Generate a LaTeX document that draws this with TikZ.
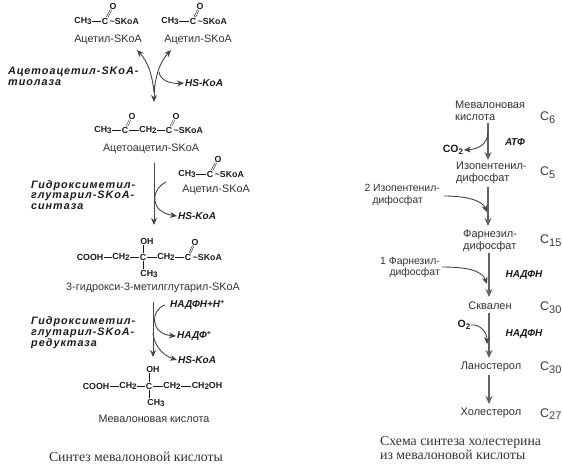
\documentclass[tikz,border=0pt]{standalone}
\usepackage{fontspec}
\setmainfont{Liberation Sans}
\newfontfamily\captionfont{Liberation Serif}
\newfontfamily\enzymefont[LetterSpace=9]{Liberation Sans}
\usetikzlibrary{arrows.meta,positioning}
\definecolor{ink}{HTML}{1A1A1A}
\definecolor{arrowgray}{HTML}{454545}
\newcommand{\lowidx}[1]{\raisebox{-0.35ex}{\fontsize{8}{8}\selectfont #1}}
\newcommand{\bigidx}[1]{\raisebox{-0.4ex}{\fontsize{11}{12}\selectfont #1}}
\tikzset{
  chem/.style={inner sep=0.6pt, text=ink, font=\fontsize{8.8}{10}\selectfont\bfseries},
  chemname/.style={inner sep=1pt, text=ink!90, font=\fontsize{10.8}{12}\selectfont},
  enzyme/.style={anchor=west, inner sep=0pt, align=left, text=ink,
                 font=\fontsize{10.8}{10.8}\selectfont\enzymefont\bfseries\itshape},
  cofactor/.style={inner sep=1pt, text=ink, font=\fontsize{10}{12}\selectfont\bfseries\itshape},
  carbon/.style={anchor=west, inner sep=0pt, text=ink!85, font=\fontsize{12.5}{14}\selectfont},
  molecule/.style={inner sep=1pt, align=left, text=ink!90, font=\fontsize{11}{12}\selectfont},
  sidemol/.style={inner sep=0pt, text=ink!90, font=\fontsize{10.4}{11.5}\selectfont},
  papercaption/.style={inner sep=0pt, text=ink!90, align=left, font=\fontsize{13.8}{14}\selectfont\captionfont},
  bond/.style={line width=0.8pt, draw=ink},
  twobond/.style={double=white, double distance=0.9pt, line width=0.55pt, draw=ink},
  mainflow/.style={-{Stealth[length=8pt,width=7pt]}, line width=1.3pt, draw=arrowgray!85},
  sideflow/.style={-{Stealth[length=7pt,width=6pt]}, line width=0.9pt, draw=arrowgray}
}
\begin{document}
\begin{tikzpicture}[x=1pt,y=-1pt]
\useasboundingbox (0,0) rectangle (562,465);
% acetyl pair
\node[chem] (meA) at (83,21) {CH\lowidx{3}};
\node[chem] (cA) at (105,21) {C};
\node[chem, anchor=west] (skA) at (109,21) {\string~SKoA};
\node[chem] (oA) at (113,6) {O};
\node[chemname] (acetylA) at (108,40) {Ацетил-SKoA};
\node[chem] (meB) at (170,21) {CH\lowidx{3}};
\node[chem] (cB) at (193,21) {C};
\node[chem, anchor=west] (skB) at (197,21) {\string~SKoA};
\node[chem] (oB) at (200,6) {O};
\node[chemname] (acetylB) at (198,40) {Ацетил-SKoA};
\draw[bond] (meA) -- (cA);
\draw[twobond] (cA) -- (oA);
\draw[bond] (meB) -- (cB);
\draw[twobond] (cB) -- (oB);
\node[enzyme] (thiolase) at (8,76.5) {Ацетоацетил-SKoA-\\тиолаза};
\node[cofactor, anchor=west] (hsA) at (184,83) {HS-KoA};
% acetoacetyl
\node[chem] (meC) at (103,130) {CH\lowidx{3}};
\node[chem] (cC) at (125,130) {C};
\node[chem] (chC) at (148,130) {CH\lowidx{2}};
\node[chem] (cD) at (169,130) {C};
\node[chem, anchor=west] (skC) at (173,130) {\string~SKoA};
\node[chem] (oC) at (132,116) {O};
\node[chem] (oD) at (176,116) {O};
\node[chemname] (acetoacetyl) at (151,149) {Ацетоацетил-SKoA};
\draw[bond] (meC) -- (cC);
\draw[bond] (cC) -- (chC);
\draw[bond] (chC) -- (cD);
\draw[twobond] (cC) -- (oC);
\draw[twobond] (cD) -- (oD);
% second acetyl
\node[chem] (meE) at (187,174) {CH\lowidx{3}};
\node[chem] (cE) at (210,174) {C};
\node[chem, anchor=west] (skE) at (214,174) {\string~SKoA};
\node[chem] (oE) at (218,159) {O};
\node[chemname] (acetylC) at (216,190) {Ацетил-SKoA};
\draw[bond] (meE) -- (cE);
\draw[twobond] (cE) -- (oE);
\node[enzyme] (synthase) at (31,195) {Гидроксиметил-\\глутарил-SKoA-\\синтаза};
\node[cofactor, anchor=west] (hsB) at (177,216) {HS-KoA};
% hydroxymethylglutaryl
\node[chem] (cooF) at (90,257) {COOH};
\node[chem] (chF) at (121,257) {CH\lowidx{2}};
\node[chem] (cF) at (143,257) {C};
\node[chem] (chG) at (166,257) {CH\lowidx{2}};
\node[chem] (cG) at (188,257) {C};
\node[chem, anchor=west] (skF) at (192,257) {\string~SKoA};
\node[chem] (oG) at (195,242) {O};
\node[chem] (ohF) at (147,241) {OH};
\node[chem] (meF) at (149,274) {CH\lowidx{3}};
\node[chemname] (hmg) at (153,288) {3-гидрокси-3-метилглутарил-SKoA};
\draw[bond] (cooF) -- (chF);
\draw[bond] (chF) -- (cF);
\draw[bond] (cF) -- (chG);
\draw[bond] (chG) -- (cG);
\draw[twobond] (cG) -- (oG);
\draw[bond] (cF) -- (cF |- ohF.south);
\draw[bond] (cF) -- (cF |- meF.north);
\node[enzyme] (reductase) at (31,333) {Гидроксиметил-\\глутарил-SKoA-\\редуктаза};
\node[cofactor, anchor=west] (nadphA) at (169,305) {НАДФН+Н\textsuperscript{+}};
\node[cofactor, anchor=west] (nadpA) at (176,336) {НАДФ\textsuperscript{+}};
\node[cofactor, anchor=west] (hsC) at (177,360) {HS-KoA};
% mevalonate
\node[chem] (cooH) at (96,386) {COOH};
\node[chem] (chH) at (128,386) {CH\lowidx{2}};
\node[chem] (cH) at (149,386) {C};
\node[chem] (chJ) at (172,386) {CH\lowidx{2}};
\node[chem] (alc) at (207,386) {CH\lowidx{2}OH};
\node[chem] (ohH) at (153,369) {OH};
\node[chem] (meH) at (156,403) {CH\lowidx{3}};
\node[chemname] (mevalonate) at (154,419) {Мевалоновая кислота};
\draw[bond] (cooH) -- (chH);
\draw[bond] (chH) -- (cH);
\draw[bond] (cH) -- (chJ);
\draw[bond] (chJ) -- (alc);
\draw[bond] (cH) -- (cH |- ohH.south);
\draw[bond] (cH) -- (cH |- meH.north);
\node[papercaption] (leftcaption) at (136,457) {Синтез мевалоновой кислоты};
% left arrows
\coordinate (forkA) at (154,92);
\coordinate (forkB) at (154,85);
\coordinate (tipA) at (154,102);
\coordinate (branchA) at (159,72);
\coordinate (stemA) at (154,163);
\coordinate (tipB) at (154,225);
\coordinate (branchB) at (166,182);
\coordinate (stemB) at (153,302);
\coordinate (tipC) at (153,357);
\coordinate (branchC) at (165,305);
\coordinate (branchD) at (153,333);
\draw[sideflow] (forkA) .. controls (152,74) and (148,62) .. ([shift={(29,4)}]acetylA.south);
\draw[sideflow] (forkA) .. controls (156,74) and (160,62) .. ([shift={(-27,4)}]acetylB.south);
\draw[sideflow] (forkB) -- (tipA);
\draw[sideflow] (stemA) -- (tipB);
\draw[sideflow] (stemB) -- (tipC);
\draw[sideflow] (branchA) .. controls (160,80) and (170,84) .. (hsA.west);
\draw[sideflow] (branchB) .. controls (150,190) and (150,212) .. (hsB.west);
\draw[sideflow] (branchC) .. controls (150,310) and (150,334) .. (nadpA.west);
\draw[sideflow] (branchD) .. controls (154,345) and (162,355) .. (hsC.west);
% right column
\node[molecule, anchor=west] (mevacid) at (454,111) {Мевалоновая\\кислота};
\node[carbon] (cSix) at (540,118) {C\bigidx{6}};
\node[cofactor] (atp) at (515,142) {АТФ};
\node[chem, font=\fontsize{10.5}{12}\selectfont\bfseries] (cotwo) at (453,150) {CO\lowidx{2}};
\node[molecule, anchor=west] (ipp) at (455,173) {Изопентенил-\\дифосфат};
\node[carbon] (cFive) at (540,173) {C\bigidx{5}};
\node[sidemol, anchor=east, align=left] (ippside) at (440,195) {2 Изопентенил-\\\hspace{8pt}дифосфат};
\node[molecule, anchor=west] (fpp) at (462,241) {Фарнезил-\\дифосфат};
\node[carbon] (cFifteen) at (540,241) {C\bigidx{15}};
\node[sidemol, anchor=east, align=right] (fppside) at (440,267.5) {1 Фарнезил-\\дифосфат};
\node[cofactor] (nadphB) at (524,275) {НАДФН};
\node[molecule] (squalene) at (490,306) {Сквален};
\node[carbon] (cThirtyA) at (540,308) {C\bigidx{30}};
\node[chem, font=\fontsize{10.5}{12}\selectfont\bfseries] (otwo) at (464,325) {O\lowidx{2}};
\node[cofactor] (nadphC) at (524,334) {НАДФН};
\node[molecule] (lanosterol) at (491,367) {Ланостерол};
\node[carbon] (cThirtyB) at (540,368) {C\bigidx{30}};
\node[molecule] (cholesterol) at (491,413) {Холестерол};
\node[carbon] (cTwoSeven) at (540,414) {C\bigidx{27}};
\node[papercaption, anchor=west] (rightcaption) at (380,448) {Схема синтеза холестерина\\из мевалоновой кислоты};
% right arrows
\coordinate (stemC) at (488,123);
\coordinate (tipD) at (488,160);
\coordinate (stemD) at (488,187);
\coordinate (tipE) at (488,226);
\coordinate (stemE) at (489,253);
\coordinate (tipF) at (489,297);
\coordinate (stemF) at (489,313);
\coordinate (tipG) at (489,358);
\coordinate (stemG) at (489,375);
\coordinate (tipH) at (489,404);
\coordinate (curveA) at (488,133);
\coordinate (curveB) at (487,212);
\coordinate (curveC) at (487,284);
\coordinate (curveD) at (487,344);
\coordinate (startB) at (444,196);
\coordinate (startC) at (442,267);
\draw[mainflow] (stemC) -- (tipD);
\draw[mainflow] (stemD) -- (tipE);
\draw[mainflow] (stemE) -- (tipF);
\draw[mainflow] (stemF) -- (tipG);
\draw[mainflow] (stemG) -- (tipH);
\draw[sideflow] (curveA) .. controls (487,145) and (478,149) .. (cotwo.east);
\draw[sideflow] (startB) .. controls (465,196) and (482,200) .. (curveB);
\draw[sideflow] (startC) .. controls (465,267) and (482,270) .. (curveC);
\draw[sideflow] (otwo.east) .. controls (480,324) and (487,332) .. (curveD);
\end{tikzpicture}
\end{document}
